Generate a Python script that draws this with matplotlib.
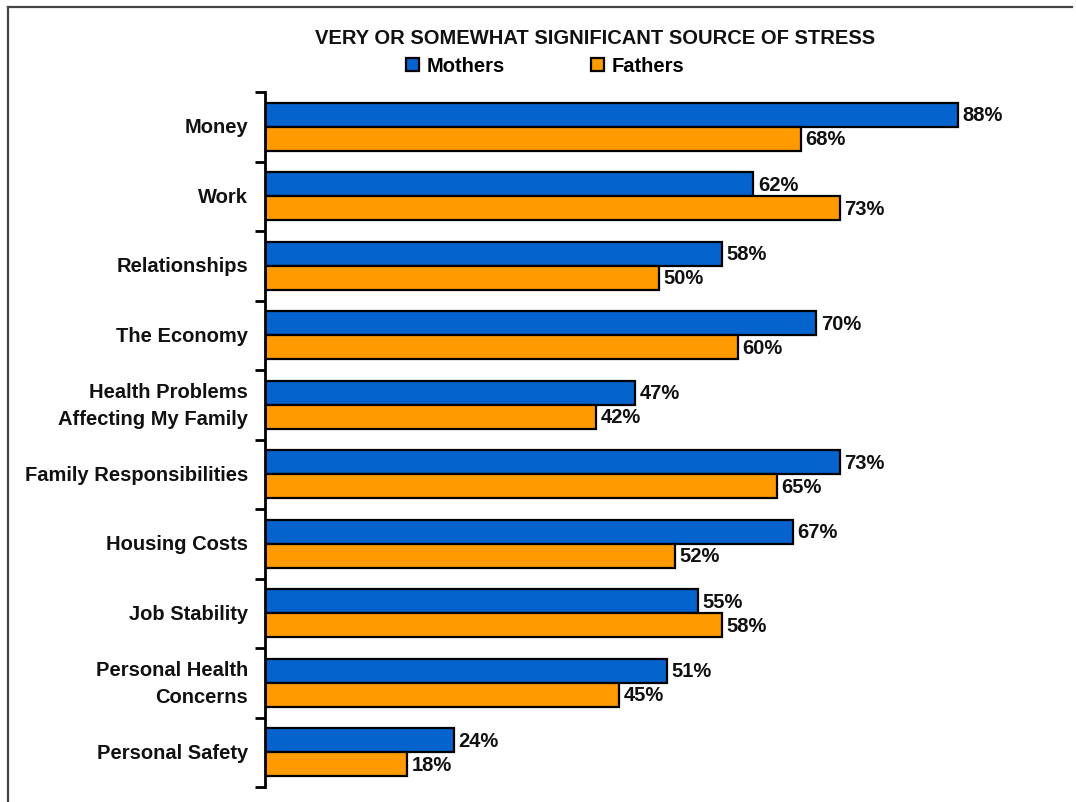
import numpy as np
import matplotlib.pyplot as plt
from matplotlib.lines import Line2D
from matplotlib.patches import Patch

categories = ["Money", "Work", "Relationships", "The Economy",
              "Health Problems\nAffecting My Family", "Family Responsibilities",
              "Housing Costs", "Job Stability", "Personal Health\nConcerns",
              "Personal Safety"]
mothers = [88, 62, 58, 70, 47, 73, 67, 55, 51, 24]
fathers = [68, 73, 50, 60, 42, 65, 52, 58, 45, 18]

blue = "#0563CE"
orange = "#FF9A00"
fs = 14.5

plt.rcParams['font.family'] = ['Liberation Sans', 'DejaVu Sans']
plt.rcParams['font.weight'] = 'bold'

fig = plt.figure(figsize=(10.76, 8.03), dpi=100)
ax = fig.add_axes([265 / 1076, 15 / 803, 787.5 / 1076, 695 / 803])

y = np.arange(len(categories))
h = 0.345
ax.barh(y - h / 2, mothers, height=h, color=blue, edgecolor="black", linewidth=1.6)
ax.barh(y + h / 2, fathers, height=h, color=orange, edgecolor="black", linewidth=1.6)

for i in range(len(categories)):
    ax.text(mothers[i] + 0.6, y[i] - h / 2, f"{mothers[i]}%", va="center", ha="left",
            fontsize=fs, fontweight="bold", color="#111111")
    ax.text(fathers[i] + 0.6, y[i] + h / 2, f"{fathers[i]}%", va="center", ha="left",
            fontsize=fs, fontweight="bold", color="#111111")

ax.set_xlim(0, 100)
ax.set_ylim(len(categories) - 0.5, -0.5)
for s in ["top", "right", "bottom"]:
    ax.spines[s].set_visible(False)
ax.spines["left"].set_linewidth(2)
ax.set_xticks([])
ax.set_yticks(y)
ax.set_yticklabels(categories, fontsize=fs, fontweight="bold", color="#111111",
                   linespacing=1.55, ha="right", va="center")
ax.tick_params(axis="y", which="major", length=0, pad=12)
ax.set_yticks(np.arange(-0.5, len(categories), 1.0), minor=True)
ax.tick_params(axis="y", which="minor", length=7, width=2, direction="out")

fig.text(595 / 1076, 1 - 38 / 803, "VERY OR SOMEWHAT SIGNIFICANT SOURCE OF STRESS",
         ha="center", va="center", fontsize=fs, fontweight="bold", color="#111111")

handles = [Patch(facecolor=blue, edgecolor="black", linewidth=1.6),
           Patch(facecolor=orange, edgecolor="black", linewidth=1.6)]
fig.legend(handles, ["Mothers", "Fathers"], loc="center",
           bbox_to_anchor=(545 / 1076, 1 - 67 / 803), ncol=2, frameon=False,
           prop={"size": fs, "weight": "bold"}, handlelength=0.65, handleheight=0.65,
           handletextpad=0.35, columnspacing=4.3)

# frame lines (top and left only)
fig.add_artist(Line2D([8 / 1076, 1072 / 1076], [1 - 8 / 803, 1 - 8 / 803],
                      color="#444444", linewidth=1.6, transform=fig.transFigure))
fig.add_artist(Line2D([8 / 1076, 8 / 1076], [1 - 8 / 803, 0],
                      color="#444444", linewidth=1.6, transform=fig.transFigure))

fig.savefig("out.png", dpi=100)
